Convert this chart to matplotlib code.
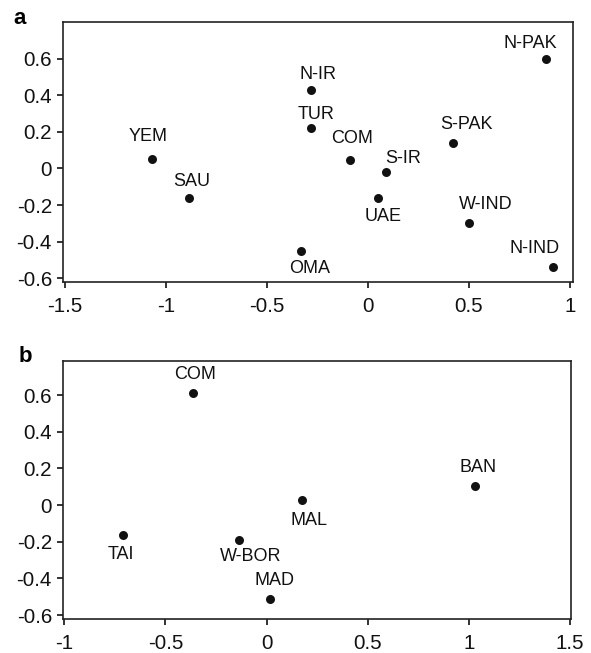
import numpy as np
import matplotlib
matplotlib.use("Agg")
import matplotlib.pyplot as plt

plt.rcParams['font.family'] = ['Liberation Sans', 'DejaVu Sans']

# panel a
names_a = ["YEM", "SAU", "OMA", "N-IR", "TUR", "COM", "S-IR", "UAE",
           "S-PAK", "W-IND", "N-PAK", "N-IND"]
x_a = [-1.07, -0.885, -0.33, -0.28, -0.28, -0.09, 0.09, 0.05,
       0.42, 0.50, 0.88, 0.915]
y_a = [0.05, -0.16, -0.45, 0.43, 0.22, 0.045, -0.02, -0.16,
       0.14, -0.295, 0.60, -0.54]

# panel b
names_b = ["COM", "TAI", "W-BOR", "MAD", "MAL", "BAN"]
x_b = [-0.365, -0.71, -0.135, 0.017, 0.173, 1.03]
y_b = [0.613, -0.162, -0.19, -0.51, 0.026, 0.105]

# label offsets (pixels, dx right, dy down)
offs_a = [(-4, -23), (2, -16), (8, 18), (7, -15), (5, -14), (2, -22),
          (17, -14), (5, 19), (14, -18), (17, -18), (-15, -15), (-18, -19)]
offs_b = [(2, -18), (-2, 20), (11, 17), (4, -18), (7, 20), (3, -18)]


def draw(ax, xs, ys, names, offs, xlim, ylim, xticks, yticks):
    ax.scatter(xs, ys, s=42, color='#111111', zorder=3, linewidths=0)
    for x, y, n, (dx, dy) in zip(xs, ys, names, offs):
        ax.annotate(n, (x, y), xytext=(dx, -dy), textcoords='offset pixels',
                    ha='center', va='center', fontsize=13, color='#111111')
    ax.set_xlim(*xlim)
    ax.set_ylim(*ylim)
    ax.set_xticks(xticks)
    ax.set_yticks(yticks)
    ax.set_xticklabels([f"{t:g}" for t in xticks])
    ax.set_yticklabels([f"{t:g}" for t in yticks])
    ax.tick_params(direction='out', length=4, width=1.2, labelsize=14.8,
                   top=False, right=False, colors='#111111')
    ax.tick_params(axis='x', pad=7)
    ax.tick_params(axis='y', pad=4)
    for sp in ax.spines.values():
        sp.set_linewidth(1.2)
        sp.set_color('#222222')


fig = plt.figure(figsize=(5.91, 6.53), dpi=100)
ax1 = fig.add_axes([0.1066, 0.5681, 0.8629, 0.3982])
ax2 = fig.add_axes([0.1066, 0.0525, 0.8591, 0.3951])

yt = [-0.6, -0.4, -0.2, 0, 0.2, 0.4, 0.6]
draw(ax1, x_a, y_a, names_a, offs_a, (-1.51, 1.015), (-0.62, 0.80),
     [-1.5, -1, -0.5, 0, 0.5, 1], yt)
draw(ax2, x_b, y_b, names_b, offs_b, (-1.006, 1.503), (-0.62, 0.787),
     [-1, -0.5, 0, 0.5, 1, 1.5], yt)

fig.text(20 / 591, 1 - 18 / 653, "a", fontsize=16, fontweight='bold',
         ha='center', va='center')
fig.text(25 / 591, 1 - 357 / 653, "b", fontsize=16, fontweight='bold',
         ha='center', va='center')

fig.savefig("out.png", dpi=100)
